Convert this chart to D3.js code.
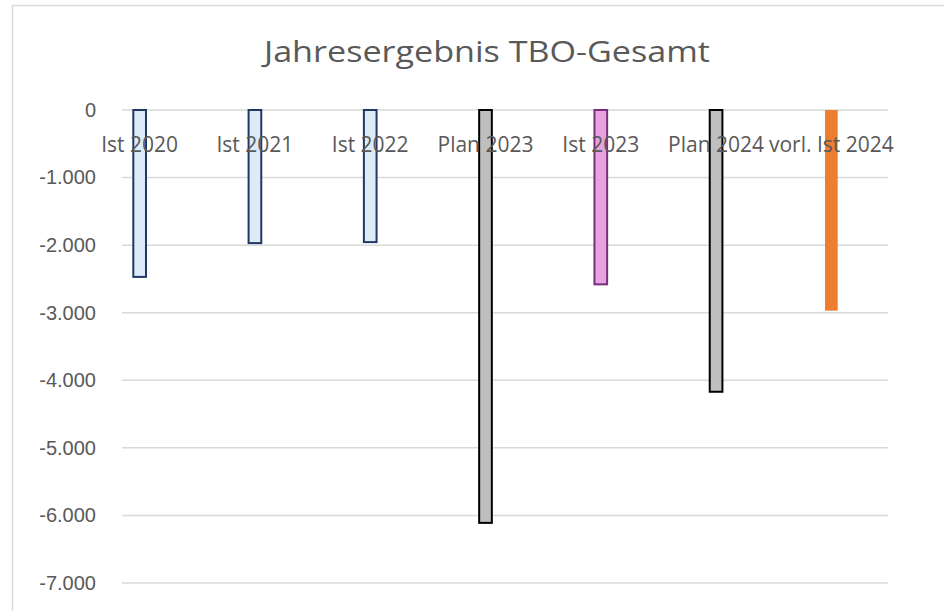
<!DOCTYPE html>
<html><head><meta charset="utf-8">
<script src="https://cdn.jsdelivr.net/npm/d3@7"></script>
<style>body{margin:0;background:#fff}svg{display:block}</style>
</head><body>
<script>
const categories = ["Ist 2020","Ist 2021","Ist 2022","Plan 2023","Ist 2023","Plan 2024","vorl. Ist 2024"];
const values = [-2470,-1970,-1955,-6110,-2580,-4170,-2970];
const fills = ["#DDEBF7","#DDEBF7","#DDEBF7","#BFBFBF","#E7A3DD","#BFBFBF","#ED7D31"];
const strokes = ["#1F3864","#1F3864","#1F3864","#000000","#7B2C7B","#000000","none"];
const yTicks = [0,-1000,-2000,-3000,-4000,-5000,-6000,-7000];
const title = "Jahresergebnis TBO-Gesamt";

const W=944,H=611;
const svg=d3.select("body").append("svg").attr("width",W).attr("height",H);
svg.append("rect").attr("x",12.5).attr("y",5.5).attr("width",W).attr("height",H).attr("fill","#fff").attr("stroke","#d9d9d9").attr("stroke-width",1.5);

const y=d3.scaleLinear().domain([0,-7000]).range([110,583]);
const x=d3.scaleBand().domain(categories).range([82,889]).paddingInner(0.89).paddingOuter(0.445);

// gridlines
svg.append("g").selectAll("line").data(yTicks).join("line")
  .attr("x1",122).attr("x2",888).attr("y1",d=>y(d)).attr("y2",d=>y(d))
  .attr("stroke","#d9d9d9").attr("stroke-width",1.5);

// y axis labels
const fmt=d=>d3.format(",")(d).replace(/,/g,".").replace("−","-");
const yAxis=d3.axisLeft(y).tickValues(yTicks).tickSize(0).tickPadding(0).tickFormat(fmt);
const ga=svg.append("g").attr("transform","translate(96,0)").call(yAxis);
ga.select(".domain").remove();
ga.selectAll("text").attr("font-family","Liberation Sans, Arial, sans-serif").attr("font-size",20).attr("fill","#595959");

// bars
svg.append("g").selectAll("rect").data(categories).join("rect")
  .attr("x",(d)=>x(d)).attr("width",x.bandwidth())
  .attr("y",(d,i)=>y(0)).attr("height",(d,i)=>y(values[i])-y(0))
  .attr("fill",(d,i)=>fills[i]).attr("stroke",(d,i)=>strokes[i]).attr("stroke-width",2);

// category labels
svg.append("g").selectAll("text").data(categories).join("text")
  .attr("x",d=>x(d)+x.bandwidth()/2).attr("y",152)
  .attr("text-anchor","middle").attr("font-family","Open Sans, sans-serif").attr("font-size",21)
  .attr("fill","#595959").text(d=>d);

// title
svg.append("text").attr("x",487).attr("y",62).attr("text-anchor","middle")
  .attr("font-family","Open Sans, sans-serif").attr("font-size",30).attr("fill","#595959")
  .attr("textLength",446).attr("lengthAdjust","spacingAndGlyphs").text(title);
</script>
</body></html>
